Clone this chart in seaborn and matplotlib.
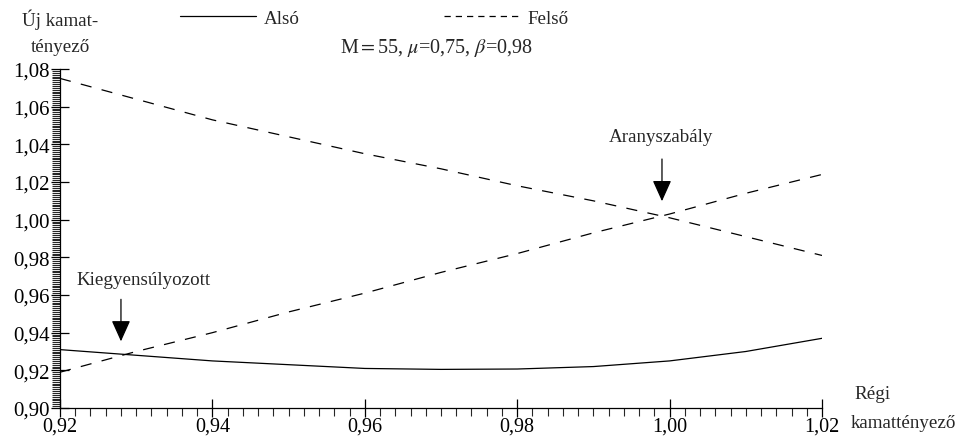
import matplotlib
matplotlib.use("Agg")
import matplotlib.pyplot as plt
import seaborn as sns
import pandas as pd
from matplotlib.ticker import MultipleLocator, FuncFormatter
from matplotlib.lines import Line2D

# ---- data ----
regi = [0.92, 0.93, 0.94, 0.95, 0.96, 0.97, 0.98, 0.99, 1.00, 1.01, 1.02]
also = [0.931, 0.928, 0.925, 0.923, 0.921, 0.9205, 0.9207, 0.922, 0.925, 0.930, 0.937]
felso = [1.075, 1.064, 1.053, 1.044, 1.035, 1.027, 1.018, 1.010, 1.001, 0.991, 0.981]
aranyszabaly_line = [0.919, 0.930, 0.940, 0.951, 0.961, 0.972, 0.982, 0.993, 1.003, 1.014, 1.024]
x_ticks = [0.92, 0.94, 0.96, 0.98, 1.00, 1.02]
y_ticks = [0.90, 0.92, 0.94, 0.96, 0.98, 1.00, 1.02, 1.04, 1.06, 1.08]

sns.set_style("ticks")
plt.rcParams['font.family'] = ['Liberation Serif', 'DejaVu Serif']
plt.rcParams['mathtext.fontset'] = 'stix'
FS = 13.7
TFS = 15

df = pd.DataFrame({"regi": regi, "also": also, "felso": felso, "arany": aranyszabaly_line})

fig = plt.figure(figsize=(9.59, 4.39), dpi=100)
ax = fig.add_axes([60/959, 1-409/439, (822-60)/959, (409-70)/439])

lw = 0.9
dash = (8/lw, 7.5/lw)
sns.lineplot(data=df, x="regi", y="also", ax=ax, color="black", lw=lw)
sns.lineplot(data=df, x="regi", y="felso", ax=ax, color="black", lw=lw)
ax.lines[-1].set_linestyle((0, dash))
sns.lineplot(data=df, x="regi", y="arany", ax=ax, color="black", lw=lw)
ax.lines[-1].set_linestyle((0, dash))

ax.set_xlim(0.92, 1.02)
ax.set_ylim(0.90, 1.08)
ax.set_xticks(x_ticks)
ax.set_yticks(y_ticks)
ax.xaxis.set_minor_locator(MultipleLocator(0.002))
ax.yaxis.set_minor_locator(MultipleLocator(0.001))
fmt = FuncFormatter(lambda v, p: f"{v:.2f}".replace(".", ","))
ax.xaxis.set_major_formatter(fmt)
ax.yaxis.set_major_formatter(fmt)
ax.tick_params(which="major", direction="inout", length=13, width=0.9, labelsize=TFS, colors="black")
ax.tick_params(axis="x", which="major", labelsize=14.5, pad=0)
ax.tick_params(which="minor", direction="out", length=6, width=0.8)
ax.tick_params(axis="y", which="major", pad=1)
ax.set_xlabel("")
ax.set_ylabel("")
for s in ["top", "right"]:
    ax.spines[s].set_visible(False)
for s in ["left", "bottom"]:
    ax.spines[s].set_linewidth(0.9)
    ax.spines[s].set_color("black")

# annotations
arrow = dict(arrowstyle="-|>,head_length=1.0,head_width=0.45", color="black", lw=0.9,
             mutation_scale=13, shrinkA=0, shrinkB=0)
ax.annotate("", xy=(0.928, 0.9354), xytext=(0.928, 0.9577), arrowprops=arrow)
ax.text(0.931, 0.9684, "Kiegyensúlyozott", ha="center", va="center", fontsize=FS)
ax.annotate("", xy=(0.999, 1.0098), xytext=(0.999, 1.0322), arrowprops=arrow)
ax.text(0.9989, 1.0444, "Aranyszabály", ha="center", va="center", fontsize=FS)

# axis titles
fig.text(60/959, 1-20/439, "Új kamat-", ha="center", va="center", fontsize=FS)
fig.text(60/959, 1-47/439, "tényező", ha="center", va="center", fontsize=FS)
fig.text(873/959, 1-395/439, "Régi", ha="center", va="center", fontsize=FS)
fig.text(956/959, 1-424/439, "kamattényező", ha="right", va="center", fontsize=FS)

# title
fig.text(436/959, 1-48/439, r"M$=$55, $\mu$=0,75, $\beta$=0,98",
         ha="center", va="center", fontsize=14.5)

# legend
handles = [Line2D([], [], color="black", lw=lw),
           Line2D([], [], color="black", lw=lw, linestyle=(0, (5, 4)))]
fig.legend(handles, ["Alsó", "Felső"], ncol=2, frameon=False, fontsize=FS,
           handlelength=4.0, handletextpad=0.4, columnspacing=7.6,
           loc="center left", bbox_to_anchor=(180/959, 1-19/439), borderaxespad=0, borderpad=0)

fig.savefig("out.png", dpi=100)
